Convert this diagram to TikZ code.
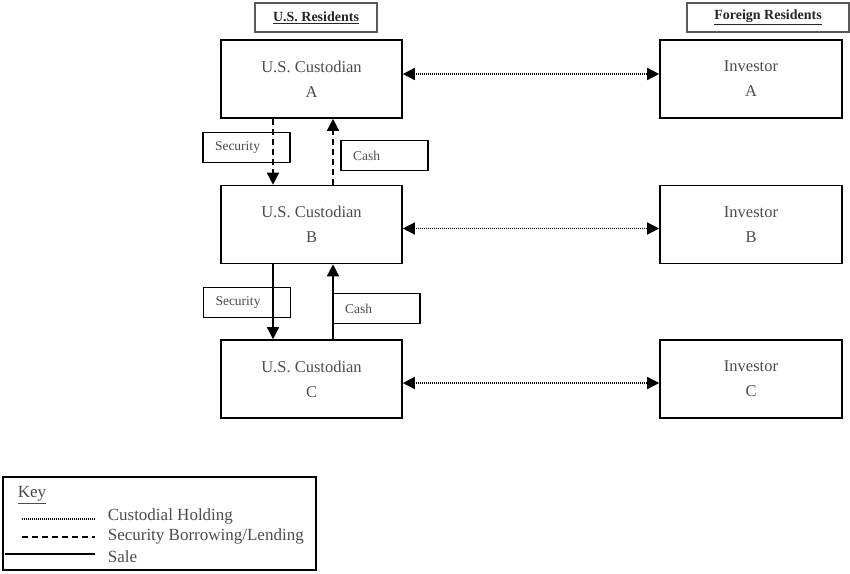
\documentclass[tikz,border=0pt]{standalone}
\usepackage{fontspec}
\setmainfont{Liberation Serif}
\usepackage{tikz}
\usetikzlibrary{arrows.meta,positioning}

\begin{document}
\begin{tikzpicture}[x = 1pt, y = -1pt]
	\tikzstyle{every node} = [rectangle, draw = black, line width = 1.6pt, text = black!70, align = center, inner sep = 0pt, font = \fontsize{16.5}{25}\selectfont]
	\tikzstyle{bigbox} = [minimum width = 181pt, minimum height = 78pt]
	\tikzstyle{tagbox} = [minimum width = 87pt, minimum height = 30pt, text width = 63pt, align = left, font = \fontsize{13.5}{15}\selectfont]
	\tikzstyle{headbox} = [minimum height = 29pt, line width = 1.1pt, draw = black!65, text = black!85, font = \bfseries\fontsize{14}{16}\selectfont]
	\tikzstyle{hold} = [{Triangle[width = 12pt, length = 12pt]}-{Triangle[width = 12pt, length = 12pt]}, line width = 1.4pt, dash pattern = on 1pt off 1pt]
	\tikzstyle{lend} = [-{Triangle[width = 12pt, length = 12pt]}, line width = 1.4pt, dash pattern = on 6pt off 4pt]
	\tikzstyle{sale} = [-{Triangle[width = 12pt, length = 12pt]}, line width = 1.4pt]
	\useasboundingbox (0, 0) rectangle (850, 573);
\node[headbox, minimum width = 122pt] (usres) at (316, 17.5) {\underline{U.S. Residents}};
\node[headbox, minimum width = 162pt] (forres) at (768, 17.5) {\underline{Foreign Residents}};
\node[bigbox] (cA) at (311.5, 79) {U.S. Custodian\\A};
\node[bigbox] (cB) at (311.5, 224.5) {U.S. Custodian\\B};
\node[bigbox] (cC) at (311.5, 379) {U.S. Custodian\\C};
\node[bigbox, minimum width = 182pt] (iA) at (751, 79) {Investor\\A};
\node[bigbox, minimum width = 182pt] (iB) at (751, 224.5) {Investor\\B};
\node[bigbox, minimum width = 182pt] (iC) at (751, 379) {Investor\\C};
\node[tagbox] (sec1) at (246.5, 147.5) {Security};
\node[tagbox] (cash1) at (384.5, 155.5) {Cash};
\node[tagbox] (sec2) at (247, 302.5) {Security};
\node[tagbox] (cash2) at (376.5, 308.5) {Cash};
	\path[draw, hold] ([yshift = 5pt]cA.east) -- ([yshift = 5pt]iA.west);
	\path[draw, hold] ([yshift = -4pt]cB.east) -- ([yshift = -4pt]iB.west);
	\path[draw, hold] ([yshift = -4pt]cC.east) -- ([yshift = -4pt]iC.west);
	\path[draw, lend] ([xshift = -38.5pt]cA.south) -- ([xshift = -38.5pt]cB.north);
	\path[draw, lend] ([xshift = 21.5pt]cB.north) -- ([xshift = 21.5pt]cA.south);
	\path[draw, sale] ([xshift = -38.5pt]cB.south) -- ([xshift = -38.5pt]cC.north);
	\path[draw, sale] ([xshift = 21.5pt]cC.north) -- ([xshift = 21.5pt]cB.south);
\node[minimum width = 313pt, minimum height = 93pt] (key) at (159.5, 523.5) {};
\node[draw = none, anchor = west, font = \fontsize{17}{20}\selectfont] (keyhead) at (17, 495) {\underline{Key}};
\node[draw = none, anchor = west, font = \fontsize{17}{20}\selectfont] (keyhold) at (107, 516) {Custodial Holding};
\node[draw = none, anchor = west, font = \fontsize{17}{20}\selectfont] (keylend) at (107, 536) {Security Borrowing/Lending};
\node[draw = none, anchor = west, font = \fontsize{17}{20}\selectfont] (keysale) at (107, 557) {Sale};
	\draw[line width = 1.2pt, dash pattern = on 1pt off 1pt] (22, 519) -- (95, 519);
	\draw[line width = 1.4pt, dash pattern = on 6pt off 4pt] (22, 537) -- (95, 537);
	\draw[line width = 1.4pt] (5, 554) -- (95, 554);
	\end{tikzpicture}
\end{document}
